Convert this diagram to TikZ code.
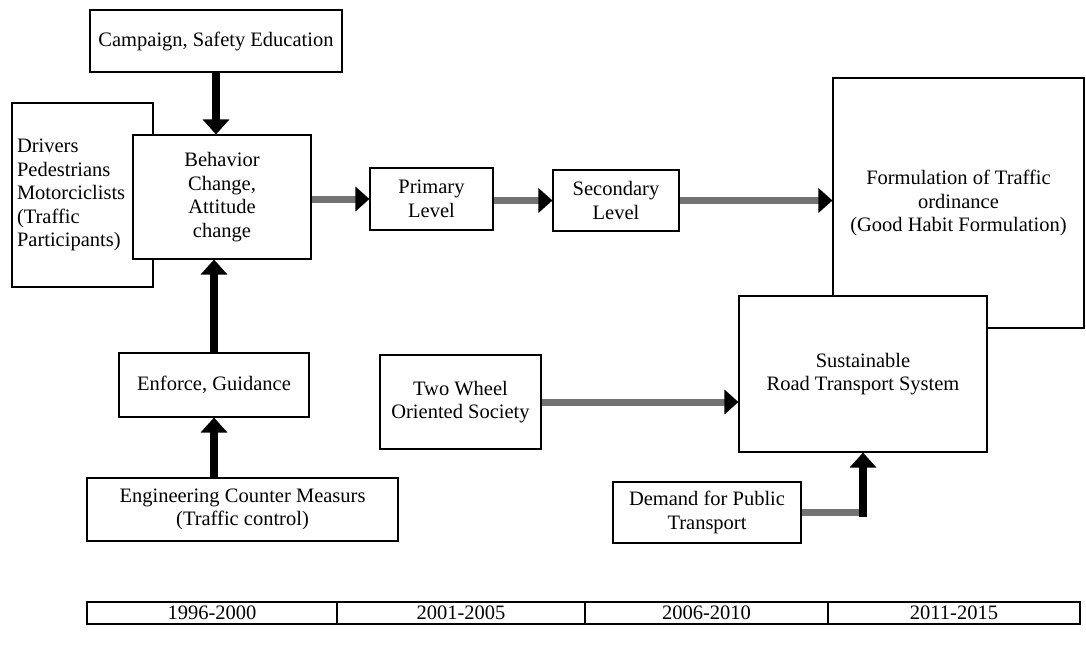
\documentclass[tikz,border=0pt]{standalone}
\usepackage{fontspec}
\setmainfont{Liberation Serif}
\usetikzlibrary{arrows.meta}
\begin{document}
\begin{tikzpicture}[x=1pt,y=-1pt,
  box/.style={draw=black,line width=1.1pt,fill=white,inner sep=0pt,align=center,
    font=\fontsize{20.5}{23.5}\selectfont},
  yearbox/.style={box,font=\fontsize{20.5}{21}\selectfont},
  blk/.style={line width=8pt,draw=black,-{Triangle[length=15pt,width=26pt,black]}},
  gry/.style={line width=7pt,draw=black!55,-{Triangle[length=14pt,width=24pt,black]}}]
\useasboundingbox[fill=white] (0,0) rectangle (1086,649);

% boxes drawn underneath
\node[box,align=left,text width=131pt,inner xsep=5pt,minimum height=184pt] (drv) at (82.5,195)
  {Drivers\\Pedestrians\\Motorciclists\\(Traffic\\Participants)};
\node[box,minimum width=251pt,minimum height=250pt] (form) at (958.5,203)
  {Formulation of Traffic\\ordinance\\(Good Habit Formulation)};

% main boxes
\node[box,minimum width=252pt,minimum height=62pt] (camp) at (216,41) {Campaign, Safety Education};
\node[box,minimum width=178pt,minimum height=124pt] (beh) at (222,197) {Behavior\\Change,\\Attitude\\change};
\node[box,minimum width=123pt,minimum height=62pt] (prim) at (431.5,199) {Primary\\Level};
\node[box,minimum width=126pt,minimum height=61pt] (sec) at (616,200.5) {Secondary\\Level};
\node[box,minimum width=248pt,minimum height=156pt] (sust) at (863,374) {Sustainable\\Road Transport System};
\node[box,minimum width=161pt,minimum height=94pt] (two) at (460.5,402) {Two Wheel\\Oriented Society};
\node[box,minimum width=188pt,minimum height=61pt] (dem) at (707,512.5) {Demand for Public\\Transport};
\node[box,minimum width=190pt,minimum height=64pt] (enf) at (214,385) {Enforce, Guidance};
\node[box,minimum width=311pt,minimum height=63pt] (eng) at (242.5,509.5) {Engineering Counter Measurs\\(Traffic control)};

% timeline
\node[yearbox,minimum width=250pt,minimum height=22pt] (t1) at (212,613) {1996-2000};
\node[yearbox,minimum width=248pt,minimum height=22pt] (t2) at (461,613) {2001-2005};
\node[yearbox,minimum width=243pt,minimum height=22pt] (t3) at (706.5,613) {2006-2010};
\node[yearbox,minimum width=252pt,minimum height=22pt] (t4) at (954,613) {2011-2015};

% black arrows
\draw[blk] (camp.south) -- (camp.south |- beh.north);
\draw[blk] (enf.north) -- (enf.north |- beh.south);
\draw[blk] (enf.south |- eng.north) -- (enf.south);

% gray arrows
\draw[gry] (beh.east |- prim.west) -- (prim.west);
\draw[gry] (prim.east |- sec.west) -- (sec.west);
\draw[gry] (sec.east) -- (sec.east -| form.west);
\draw[gry] (two.east) -- (two.east -| sust.west);

% demand elbow
\coordinate (dc) at (sust.south |- dem.east);
\draw[gry,-] (dem.east) -- ([xshift=4pt]dc);
\draw[blk] ([yshift=-4pt]dc) -- (sust.south);
\end{tikzpicture}
\end{document}
